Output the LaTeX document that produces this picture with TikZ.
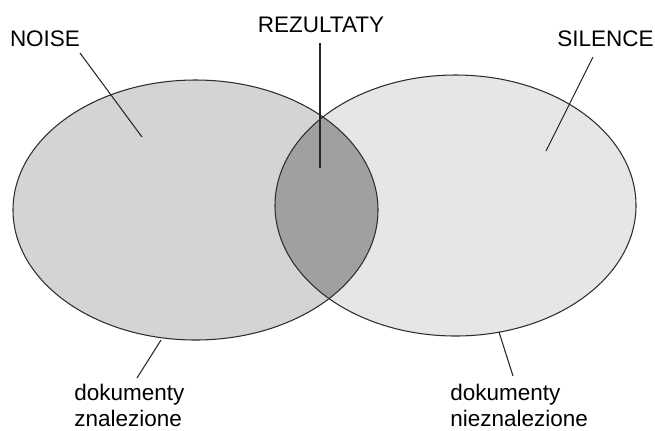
\documentclass[tikz,border=0pt]{standalone}
\usepackage{fontspec}
\setmainfont{Liberation Sans}
\definecolor{noisegray}{RGB}{212,212,212}
\definecolor{silencegray}{RGB}{230,230,230}
\definecolor{lensgray}{RGB}{160,160,160}
\definecolor{rimgray}{RGB}{45,45,45}
\tikzset{
  setrim/.style={draw=rimgray,line width=0.6pt},
  leader/.style={draw=black!85,line width=0.6pt},
  lbl/.style={inner sep=0pt}
}
\begin{document}
\begin{tikzpicture}[x=0.02cm,y=-0.02cm,font=\fontsize{12.8pt}{14.6pt}\selectfont]
\useasboundingbox (0,0) rectangle (655,430);
% the two sets
\fill[noisegray] (195.5,210) ellipse [x radius=182.5,y radius=130];
\fill[silencegray] (455.5,205.5) ellipse [x radius=180.5,y radius=130.5];
\begin{scope}
  \clip (195.5,210) ellipse [x radius=182.5,y radius=130];
  \fill[lensgray] (455.5,205.5) ellipse [x radius=180.5,y radius=130.5];
\end{scope}
\draw[setrim] (195.5,210) ellipse [x radius=182.5,y radius=130];
\draw[setrim] (455.5,205.5) ellipse [x radius=180.5,y radius=130.5];
% labels
\node[lbl] (noise) at (45,38.5) {NOISE};
\node[lbl] (rez) at (321,24.5) {REZULTATY};
\node[lbl] (silence) at (605.5,38.5) {SILENCE};
\node[lbl,anchor=north west,align=left] (found) at (74,384) {dokumenty\\znalezione};
\node[lbl,anchor=north west,align=left] (notfound) at (450,384) {dokumenty\\nieznalezione};
% leader ends
\coordinate (noiseA) at (80,53);    \coordinate (noiseB) at (142,137);
\coordinate (rezA) at (320,43);     \coordinate (rezB) at (320,168);
\coordinate (silA) at (593,57);     \coordinate (silB) at (546,151);
\coordinate (foundA) at (137,378);  \coordinate (foundB) at (161,340);
\coordinate (nfA) at (513,376);     \coordinate (nfB) at (499,332);
\draw[leader] (noiseA) -- (noiseB);
\draw[leader] (rezA) -- (rezB);
\draw[leader] (silA) -- (silB);
\draw[leader] (foundA) -- (foundB);
\draw[leader] (nfA) -- (nfB);
\end{tikzpicture}
\end{document}
